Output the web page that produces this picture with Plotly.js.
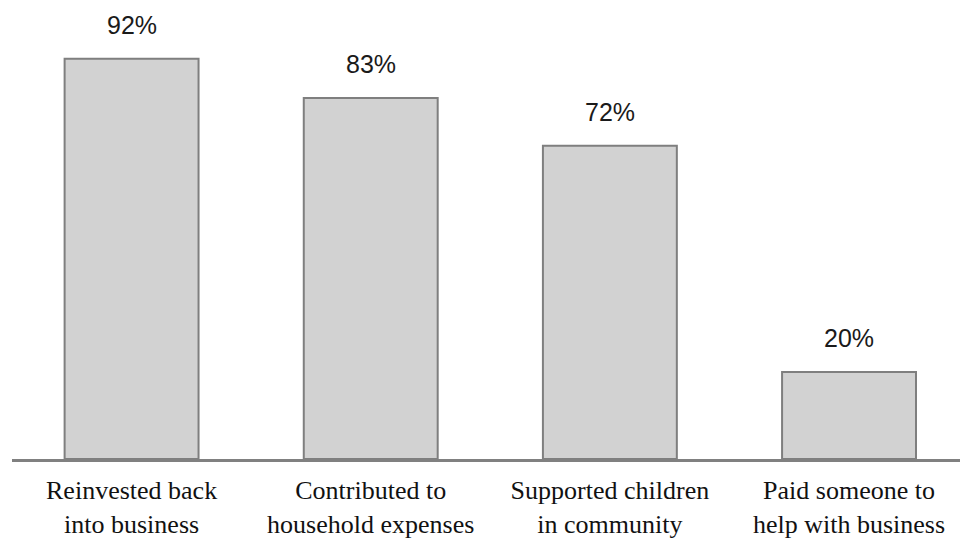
<!DOCTYPE html>
<html>
<head>
<meta charset="utf-8">
<script src="https://cdn.plot.ly/plotly-3.0.1.min.js"></script>
<style>html,body{margin:0;padding:0;background:#fff;}#chart{width:960px;height:541px;}</style>
</head>
<body>
<div id="chart"></div>
<script>
var categories = [
  "Reinvested back<br>into business",
  "Contributed to<br>household expenses",
  "Supported children<br>in community",
  "Paid someone to<br>help with business"
];
var values = [92, 83, 72, 20];
var valueLabels = ["92%", "83%", "72%", "20%"];

var trace = {
  type: "bar",
  x: categories,
  y: values,
  marker: {color: "#d2d2d2", line: {color: "#7f7f7f", width: 2}},
  hoverinfo: "none"
};

var annotations = categories.map(function (c, i) {
  return {
    x: c, y: values[i], xref: "x", yref: "y",
    text: valueLabels[i], showarrow: false,
    yanchor: "bottom", yshift: 18,
    font: {family: "Liberation Sans, Arial, sans-serif", size: 25, color: "#1a1a1a"}
  };
});

var layout = {
  width: 960, height: 541,
  margin: {l: 12, r: 0, t: 24, b: 82},
  paper_bgcolor: "#fff", plot_bgcolor: "#fff",
  showlegend: false,
  bargap: 0.44,
  xaxis: {
    type: "category",
    range: [-0.5, 3.464],
    showline: true, linecolor: "#808080", linewidth: 3,
    showgrid: false, zeroline: false, ticks: "",
    ticklabelstandoff: 6,
    tickfont: {family: "Liberation Serif, Times New Roman, serif", size: 26, color: "#111"}
  },
  yaxis: {
    range: [0, 100],
    visible: false, showgrid: false, zeroline: false
  },
  annotations: annotations
};

Plotly.newPlot("chart", [trace], layout, {staticPlot: true});
</script>
</body>
</html>
